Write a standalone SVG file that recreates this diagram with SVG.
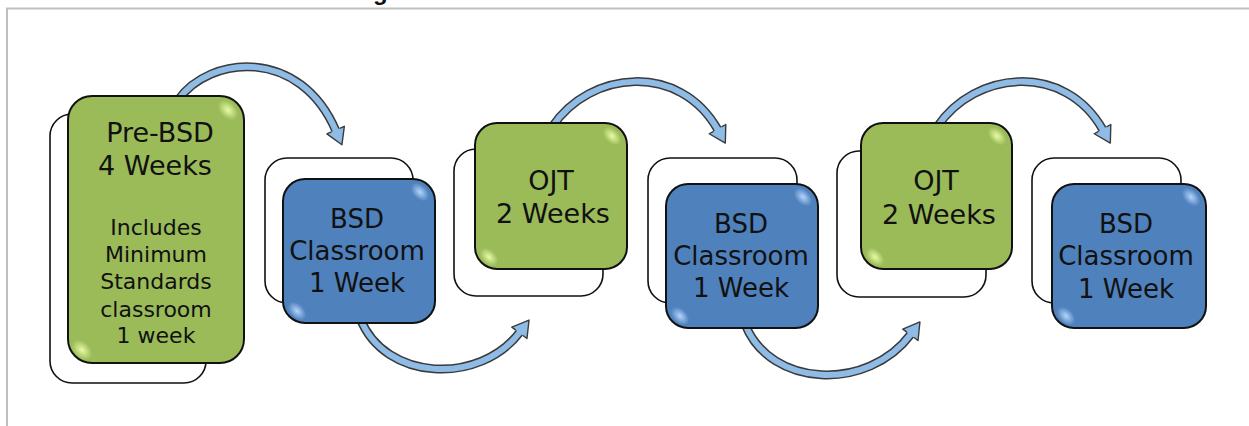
<svg xmlns="http://www.w3.org/2000/svg" width="1249" height="426" viewBox="0 0 1249 426">
<style>
.frame{fill:none;stroke:#bfbfbf;stroke-width:2}
.back{fill:#fff;stroke:#111;stroke-width:1.6}
.green{fill:#9bbb59;stroke:#111;stroke-width:2}
.blue{fill:#4f81bd;stroke:#111;stroke-width:2}
.t{font-family:"DejaVu Sans",Verdana,sans-serif;fill:#111;text-anchor:middle}
.big{font-size:27px}
.mid{font-size:26px}
.small{font-size:22px}
.aout{fill:none;stroke:#3a3a3a;stroke-width:9}
.ain{fill:none;stroke:#8fbce6;stroke-width:6;marker-end:url(#head)}
.ahl{fill:none;stroke:#b3d3f1;stroke-width:1.8}
.hlg{fill:url(#glowG)}
.hlb{fill:url(#glowB)}
</style>
<defs>
<radialGradient id="glowG"><stop offset="0" stop-color="#eaffa8" stop-opacity="0.95"/><stop offset="1" stop-color="#eaffa8" stop-opacity="0"/></radialGradient>
<radialGradient id="glowB"><stop offset="0" stop-color="#b8d9ff" stop-opacity="0.95"/><stop offset="1" stop-color="#b8d9ff" stop-opacity="0"/></radialGradient>
<marker id="head" markerUnits="userSpaceOnUse" viewBox="-3 -12 22 24" markerWidth="22" markerHeight="24" refX="0" refY="0" orient="auto">
<path d="M-1,-9.5 L15,0 L-1,9.5 Z" fill="#8fbce6"/>
<path d="M-1,-4.5 L-1,-9.5 L15,0 L-1,9.5 L-1,4.5" fill="none" stroke="#3a3a3a" stroke-width="1.4" stroke-linejoin="round"/>
</marker>
</defs>
<rect width="1249" height="426" fill="#fff"/>
<path class="frame" d="M7,426 V8.5 H1249"/>
<text x="373" y="0" font-family="Liberation Sans,Arial,sans-serif" font-weight="bold" font-size="24" fill="#111">g</text>

<g id="connectors">
<g id="a1"><path class="aout" d="M178,100 C210,55 300,47 336,131"/><path class="ain" d="M178,100 C210,55 300,47 336,131"/></g>
<g id="a2"><path class="aout" d="M360,318 C385,382 480,385 520,332"/><path class="ain" d="M360,318 C385,382 480,385 520,332"/></g>
<g id="a3"><path class="aout" d="M552,127 C590,70 680,62 718,130"/><path class="ain" d="M552,127 C590,70 680,62 718,130"/></g>
<g id="a4"><path class="aout" d="M745,324 C770,388 868,392 911,334"/><path class="ain" d="M745,324 C770,388 868,392 911,334"/></g>
<g id="a5"><path class="aout" d="M937,127 C975,70 1065,62 1103,130"/><path class="ain" d="M937,127 C975,70 1065,62 1103,130"/></g>
</g>

<g id="n1">
<rect class="back" x="50" y="114" width="156" height="269" rx="22"/>
<rect class="green" x="68" y="96" width="176" height="267" rx="24"/>
<ellipse class="hlg" cx="228" cy="110" rx="12" ry="8" transform="rotate(45 228 110)"/>
<ellipse class="hlg" cx="82" cy="350" rx="12" ry="8" transform="rotate(45 82 350)"/>
<text class="t big" x="160" y="142">Pre-BSD</text>
<text class="t big" x="155" y="175">4 Weeks</text>
<text class="t small" x="156" y="235">Includes</text>
<text class="t small" x="156" y="262">Minimum</text>
<text class="t small" x="156" y="289">Standards</text>
<text class="t small" x="156" y="317">classroom</text>
<text class="t small" x="156" y="343">1 week</text>
</g>

<g id="n2">
<rect class="back" x="265" y="158" width="148" height="145" rx="22"/>
<rect class="blue" x="283" y="179" width="152" height="144" rx="22"/>
<ellipse class="hlb" cx="420" cy="192" rx="11" ry="7" transform="rotate(45 420 192)"/>
<ellipse class="hlb" cx="297" cy="311" rx="11" ry="7" transform="rotate(45 297 311)"/>
<text class="t mid" x="357" y="228">BSD</text>
<text class="t mid" x="357" y="260">Classroom</text>
<text class="t mid" x="357" y="292">1 Week</text>
</g>

<g id="n3">
<rect class="back" x="454" y="149" width="149" height="147" rx="22"/>
<rect class="green" x="475" y="123" width="152" height="146" rx="22"/>
<ellipse class="hlg" cx="612" cy="136" rx="11" ry="7" transform="rotate(45 612 136)"/>
<ellipse class="hlg" cx="489" cy="257" rx="11" ry="7" transform="rotate(45 489 257)"/>
<text class="t big" x="551" y="190">OJT</text>
<text class="t big" x="553" y="223">2 Weeks</text>
</g>

<g id="n4">
<rect class="back" x="648" y="158" width="149" height="145" rx="22"/>
<rect class="blue" x="666" y="184" width="152" height="144" rx="22"/>
<ellipse class="hlb" cx="803" cy="197" rx="11" ry="7" transform="rotate(45 803 197)"/>
<ellipse class="hlb" cx="680" cy="316" rx="11" ry="7" transform="rotate(45 680 316)"/>
<text class="t mid" x="741" y="233">BSD</text>
<text class="t mid" x="741" y="265">Classroom</text>
<text class="t mid" x="741" y="297">1 Week</text>
</g>

<g id="n5">
<rect class="back" x="837" y="151" width="149" height="146" rx="22"/>
<rect class="green" x="861" y="123" width="151" height="146" rx="22"/>
<ellipse class="hlg" cx="997" cy="136" rx="11" ry="7" transform="rotate(45 997 136)"/>
<ellipse class="hlg" cx="875" cy="257" rx="11" ry="7" transform="rotate(45 875 257)"/>
<text class="t big" x="936" y="190">OJT</text>
<text class="t big" x="939" y="224">2 Weeks</text>
</g>

<g id="n6">
<rect class="back" x="1032" y="158" width="149" height="145" rx="22"/>
<rect class="blue" x="1052" y="184" width="154" height="144" rx="22"/>
<ellipse class="hlb" cx="1191" cy="197" rx="11" ry="7" transform="rotate(45 1191 197)"/>
<ellipse class="hlb" cx="1066" cy="316" rx="11" ry="7" transform="rotate(45 1066 316)"/>
<text class="t mid" x="1126" y="233">BSD</text>
<text class="t mid" x="1126" y="265">Classroom</text>
<text class="t mid" x="1126" y="298">1 Week</text>
</g>
</svg>
